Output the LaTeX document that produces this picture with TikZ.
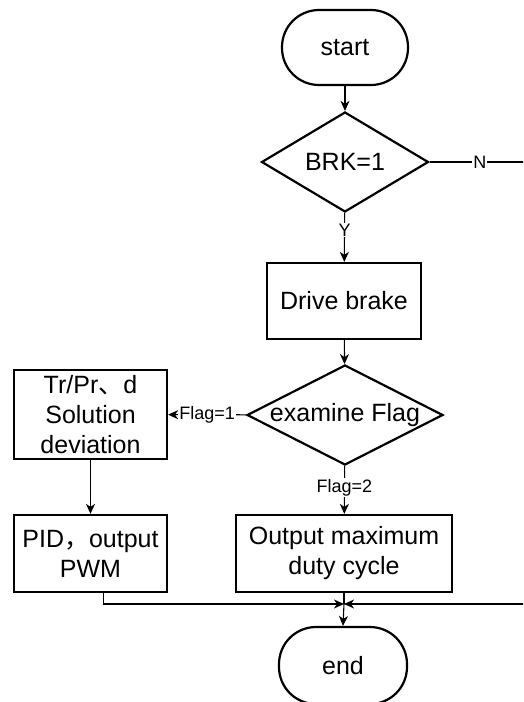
\documentclass[tikz,border=0pt]{standalone}
\usepackage{fontspec}
\setmainfont{Liberation Sans}
\newfontfamily\cjk{Noto Sans CJK SC}
\usetikzlibrary{shapes.geometric,arrows.meta,calc}
\begin{document}
\begin{tikzpicture}[x=1pt,y=-1pt,
  bigfont/.style={font=\fontsize{25}{30}\selectfont},
  box/.style={draw, line width=2.2pt, align=center, inner sep=0pt, bigfont},
  term/.style={draw, line width=2.2pt, rounded corners=37pt, minimum width=126pt, minimum height=75pt, inner sep=0pt, bigfont},
  dia/.style={draw, diamond, line width=2.2pt, inner sep=0pt},
  conn/.style={line width=1.1pt},
  arr/.style={conn, -{Stealth[length=10pt,width=9pt,inset=3pt]}},
  lbl/.style={fill=white, inner sep=1pt, font=\fontsize{18}{20}\selectfont}]
\useasboundingbox (0,0) rectangle (523,702);
\clip (0,0) rectangle (523,702);

\node[term] (start) at (345,47.5) {start};
\node[dia, minimum width=167pt, minimum height=100pt] (brk) at (345,162) {};
\node[bigfont] (brkt) at (brk) {BRK=1};
\node[box, minimum width=154pt, minimum height=76pt] (drive) at (344,301) {Drive brake};
\node[dia, minimum width=196pt, minimum height=100pt] (flag) at (345,415) {};
\node[bigfont] (flagt) at (flag) {examine Flag};
\node[box, minimum width=153pt, minimum height=89pt] (trpr) at (90.5,414.5) {Tr/Pr{\cjk 、}d\\Solution\\deviation};
\node[box, minimum width=153pt, minimum height=77pt] (pid) at (90.5,553.5) {PID{\cjk ，}output\\PWM};
\node[box, minimum width=216pt, minimum height=77pt] (omax) at (344,553.5) {Output maximum\\duty cycle};
\node[term, minimum width=128pt, minimum height=77pt] (end) at (343,665.5) {end};
\coordinate (j) at (344,604);
\coordinate (nr) at (530,162);
\coordinate (pidout) at ([xshift=13pt]pid.south);

\draw[arr] (start) -- (brk);
\draw[arr] (brk) -- node[lbl, pos=0.35] {Y} (drive);
\draw[arr] (drive) -- (flag);
\draw[arr] (flag) -- node[lbl] {Flag=1} (trpr);
\draw[arr] (flag) -- node[lbl, pos=0.45] {Flag=2} (omax);
\draw[arr] (trpr) -- (pid);
\draw[conn] (brk.east) -- node[lbl] {N} (nr);
\draw[arr] (nr) |- (j);
\draw[arr] (pidout) |- (j);
\draw[conn] (omax.south) -- (j);
\draw[arr] (j) -- (end.north);
\end{tikzpicture}
\end{document}
